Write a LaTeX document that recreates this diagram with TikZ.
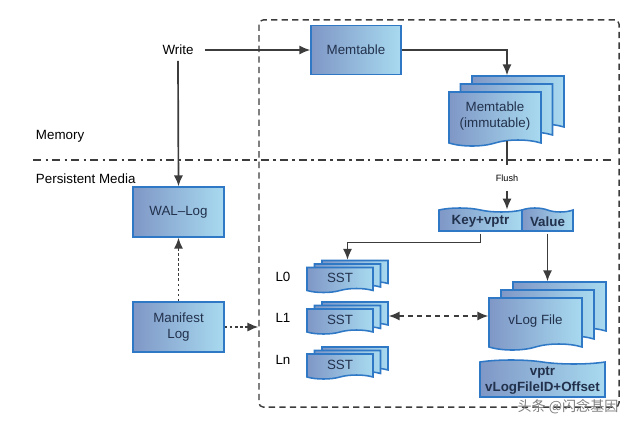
\documentclass[tikz,border=0pt]{standalone}
\usepackage{fontspec}
\setmainfont{Liberation Sans}
\newfontfamily\cjkfont{Noto Sans CJK SC}
\usetikzlibrary{positioning}
\usetikzlibrary{shapes.symbols}
\usetikzlibrary{arrows.meta,calc}

\definecolor{boxleft}{HTML}{7F97C6}
\definecolor{boxright}{HTML}{A8DAF0}
\definecolor{boxline}{HTML}{2E78C6}
\definecolor{boxtext}{HTML}{22314C}
\definecolor{linegray}{HTML}{3C3C3C}

\begin{document}
\begin{tikzpicture}[x=0.025cm,y=-0.025cm,
    >={Latex[length=2.7mm,width=2.3mm]},
    basic/.style={draw=boxline,line width=1.1pt,left color=boxleft,right color=boxright,text=boxtext,font=\fontsize{9.5}{11.5}\selectfont,align=center,inner sep=0pt},
    block/.style={basic,rectangle},
    doc/.style={basic,tape,tape bend top=none,tape bend bottom=in and out,tape bend height=1.5mm},
    tab/.style={basic,tape,tape bend top=out and in,tape bend bottom=none,tape bend height=1mm},
    label/.style={font=\fontsize{9.5}{11.5}\selectfont},
    arr/.style={->,draw=linegray,line width=1.2pt},
]
    \useasboundingbox (0,0) rectangle (640,429);
    % storage engine border
    \node[draw=linegray,line width=1pt,dash pattern=on 4.5pt off 3pt,rounded corners=3pt,minimum width=9cm,minimum height=9.675cm] (store) at (439,213.5) {};
    % memory / disk split
    \coordinate (splitl) at (33,160);
    \coordinate (splitr) at (612,160);
    \draw[linegray,line width=1pt,dash pattern=on 6pt off 3pt on 1.5pt off 3pt] (splitl) -- (splitr);
    \node[label,anchor=south west] (memory) at (31,147) {Memory};
    \node[label,anchor=west] (disk) at (31,179) {Persistent Media};

    \node[label,inner xsep=8pt,inner ysep=4pt] (write) at (178,50) {Write};
    \node[block,minimum width=2.25cm,minimum height=1.22cm] (mem) at (356,50) {Memtable};
    \node[block,minimum width=2.28cm,minimum height=1.25cm] (wal) at (178.5,212) {WAL--Log};
    \node[block,minimum width=2.28cm,minimum height=1.25cm] (man) at (178.5,327) {Manifest\\Log};

    % immutable memtables
    \foreach \i/\d in {3/2,2/1}
        \node[doc,minimum width=2.3cm,minimum height=1.35cm] (imm\i) at ($(495,116)+\d*(11.5,-8)$) {};
    \node[doc,minimum width=2.3cm,minimum height=1.35cm] (imm1) at (495,116) {Memtable\\(immutable)};

    \node[font=\fontsize{6.5}{8}\selectfont,inner ysep=7pt] (flush) at (507,178) {Flush};
    \node[tab,font=\fontsize{9.5}{11.5}\selectfont\bfseries,minimum width=2.075cm,minimum height=0.575cm] (kv) at (480.5,221.5) {Key+vptr};
    \node[tab,font=\fontsize{9.5}{11.5}\selectfont\bfseries,minimum width=1.275cm,minimum height=0.575cm] (val) at (547.5,221.5) {Value};

    % sst levels
    \foreach \l/\y/\ly in {0/278/277,1/319.5/318,n/364.5/360} {
        \node[doc,tape bend height=1mm,minimum width=1.65cm,minimum height=0.625cm] (sst\l-3) at ($(340,\y)+(15,-7)$) {};
        \node[doc,tape bend height=1mm,minimum width=1.65cm,minimum height=0.625cm] (sst\l-2) at ($(340,\y)+(7.5,-3.5)$) {};
        \node[doc,tape bend height=1mm,minimum width=1.65cm,minimum height=0.625cm] (sst\l) at (340,\y) {SST};
        \node[label] (lv\l) at (283,\ly) {L\l};
    }

    % value log
    \foreach \i/\d in {3/2,2/1}
        \node[doc,minimum width=2.325cm,minimum height=1.3cm] (vlog\i) at ($(535.5,321)+\d*(12,-8)$) {};
    \node[doc,minimum width=2.325cm,minimum height=1.3cm] (vlog1) at (535.5,321) {vLog File};
    \node[tab,font=\fontsize{9.5}{11.5}\selectfont\bfseries,minimum width=3.125cm,minimum height=0.925cm] (vptr) at (542.5,380.5) {vptr\\vLogFileID+Offset};

    \node[font=\cjkfont\fontsize{10}{12}\selectfont,text=gray] (mark) at (568,407) {头条 @闪念基因};

    % connectors
    \draw[arr] (write.east) -- (mem.west);
    \draw[arr] (write.south) -- (wal.north);
    \draw[arr] (mem.east) -| (flush |- imm3.north);
    \draw[linegray,line width=1.2pt] (flush |- imm1.south) -- (flush.north);
    \draw[arr] (flush.south) -- (flush |- kv.north);
    \draw[arr] (kv.south) -- ++(0,9) -| (sst0-2.north |- sst0-3.north);
    \draw[arr] (val.south) -- (val.south |- vlog3.north);
    \draw[arr,<->,dash pattern=on 3.5pt off 3pt] (sst1-3.east |- sst1-2.east) -- (vlog1.west |- sst1-2.east);
    \draw[arr,dash pattern=on 1.8pt off 1.8pt] (man.north) -- (wal.south);
    \draw[arr,dash pattern=on 1.8pt off 1.8pt] (man.east) -- (man.east -| store.west);
\end{tikzpicture}
\end{document}
